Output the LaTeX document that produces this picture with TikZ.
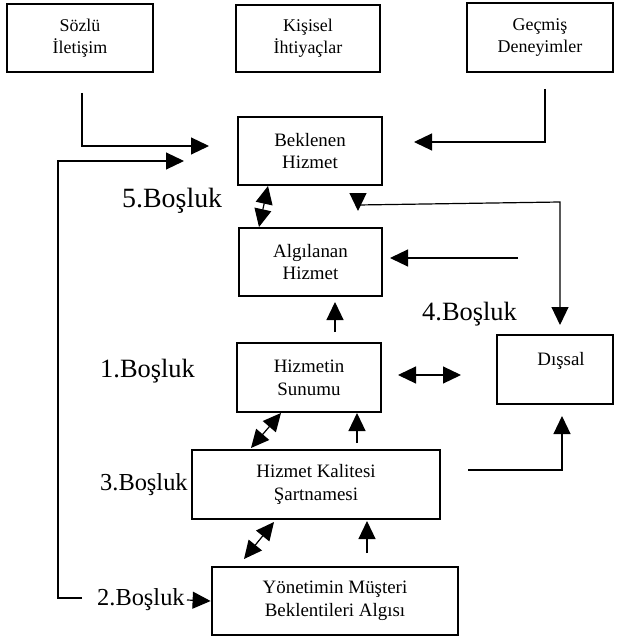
\documentclass[tikz,border=0pt]{standalone}
\usepackage{fontspec}
\setmainfont{Liberation Serif}
\usetikzlibrary{arrows.meta}
\begin{document}
\begin{tikzpicture}[x=1bp,y=-1bp,
  box/.style={draw, line width=2.8bp, align=center, inner sep=0pt, font=\fontsize{19}{23}\selectfont},
  topbox/.style={box, font=\fontsize{18}{22.5}\selectfont},
  gaplbl/.style={anchor=base west, inner sep=0pt, font=\fontsize{26.5}{30}\selectfont},
  gapsmall/.style={gaplbl, font=\fontsize{24.5}{28}\selectfont},
  gapbig/.style={gaplbl, font=\fontsize{28}{32}\selectfont},
  tip/.tip={Triangle[length=18bp,width=17bp]},
  conn/.style={line width=1.2bp, -tip},
  dconn/.style={line width=1.2bp, tip-tip},
  plainline/.style={line width=1.2bp}]
\useasboundingbox (0,0) rectangle (621,641);
% boxes
\node[topbox, minimum width=146bp, minimum height=68bp] (sozlu) at (80,38) {Sözlü\\İletişim};
\node[topbox, minimum width=144bp, minimum height=67bp] (kisisel) at (308,38.5) {Kişisel\\İhtiyaçlar};
\node[topbox, minimum width=146bp, minimum height=69bp] (gecmis) at (540,37.5) {Geçmiş\\Deneyimler};
\node[box, minimum width=144bp, minimum height=68bp] (beklenen) at (310,151) {Beklenen\\Hizmet};
\node[box, minimum width=143bp, minimum height=68bp] (algilanan) at (310.5,262) {Algılanan\\Hizmet};
\node[box, minimum width=144bp, minimum height=69bp] (hizmetin) at (309,377.5) {Hizmetin\\Sunumu};
\node[box, minimum width=116bp, minimum height=69bp] (dissal) at (555,369.5) {};
\node[anchor=base, inner sep=0pt, font=\fontsize{19}{23}\selectfont] (dissaltxt) at (561,365) {Dışsal};
\node[box, minimum width=248bp, minimum height=69bp] (sartname) at (316,484.5) {Hizmet Kalitesi\\Şartnamesi};
\node[box, minimum width=246bp, minimum height=68bp] (yonetim) at (335,601) {Yönetimin Müşteri\\Beklentileri Algısı};
% gap labels
\node[gapbig] (g5) at (122,207) {5.Boşluk};
\node[gaplbl] (g4) at (422,320) {4.Boşluk};
\node[gaplbl] (g1) at (100,377) {1.Boşluk};
\node[gapsmall] (g3) at (100,490) {3.Boşluk};
\node[gapsmall] (g2) at (97,605) {2.Boşluk};
% connector end points
\coordinate (s0) at (82,93);
\coordinate (s1) at (82,146);
\coordinate (s2) at (209,146);
\coordinate (k0) at (545,89);
\coordinate (k1) at (545,142);
\coordinate (k2) at (414,142);
\coordinate (l0) at (82,598);
\coordinate (l1) at (58,598);
\coordinate (l2) at (58,161);
\coordinate (l3) at (184,161);
\coordinate (b2a) at (187,600);
\coordinate (d5a) at (268,186);
\coordinate (d5b) at (259,227);
\coordinate (r0) at (358,211);
\coordinate (rc) at (358,205);
\coordinate (r2) at (560,202);
\coordinate (r3) at (560,325);
\coordinate (a0) at (518,258);
\coordinate (a1) at (390,258);
\coordinate (u1a) at (335,332);
\coordinate (u1b) at (335,302);
\coordinate (h0) at (398,375);
\coordinate (h1) at (461,375);
\coordinate (e0) at (468,470);
\coordinate (e1) at (562,470);
\coordinate (e2) at (562,416);
\coordinate (d3a) at (251,448);
\coordinate (d3b) at (281,413);
\coordinate (u3a) at (357,443);
\coordinate (u3b) at (357,413);
\coordinate (d2a) at (244,559);
\coordinate (d2b) at (274,522);
\coordinate (u2a) at (367,553);
\coordinate (u2b) at (367,521);
% connectors
\draw[conn] (s0) -- (s1) -- (s2);
\draw[conn] (k0) -- (k1) -- (k2);
\draw[conn] (l0) -- (l1) -- (l2) -- (l3);
\draw[conn] (b2a) -- (yonetim.west);
\draw[dconn] (d5a) -- (d5b);
\draw[dconn] (r0) -- (rc) -- (r2) -- (r3);
\draw[conn] (a0) -- (a1);
\draw[conn] (u1a) -- (u1b);
\draw[dconn] (h0) -- (h1);
\draw[conn] (e0) -- (e1) -- (e2);
\draw[dconn] (d3a) -- (d3b);
\draw[conn] (u3a) -- (u3b);
\draw[dconn] (d2a) -- (d2b);
\draw[conn] (u2a) -- (u2b);
\end{tikzpicture}
\end{document}
